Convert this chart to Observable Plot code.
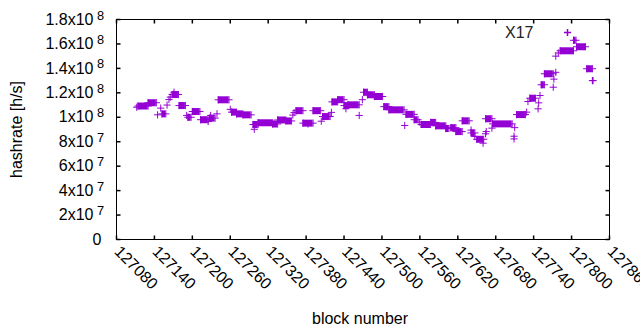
<!DOCTYPE html>
<html>
<head>
<meta charset="utf-8">
<script src="https://cdn.jsdelivr.net/npm/d3@7"></script>
<script src="https://cdn.jsdelivr.net/npm/@observablehq/plot@0.6"></script>
<style>
  html, body { margin: 0; padding: 0; background: #fff; }
  #chart svg { display: block; }
</style>
</head>
<body>
<div id="chart"></div>
<script>
// ---- data ----
// each entry is a run of consecutive blocks sharing one hashrate value
const runStart = [127112,127114,127130,127145,127150,127152,127160,127163,127165,127168,127171,127179,127191,127193,127200,127213,127225,127227,127229,127239,127241,127260,127262,127270,127280,127296,127298,127304,127327,127335,127348,127359,127361,127364,127375,127383,127391,127404,127406,127420,127421,127430,127440,127443,127446,127464,127469,127471,127477,127488,127503,127511,127536,127538,127551,127559,127562,127577,127585,127601,127609,127617,127627,127641,127641,127647,127650,127660,127664,127665,127664,127674,127675,127709,127709,127710,127713,127729,127731,127734,127747,127748,127750,127752,127757,127771,127772,127775,127775,127779,127782,127803,127808,127824,127833];
const runEnd   = [127112,127130,127143,127145,127150,127158,127160,127163,127165,127178,127171,127189,127191,127198,127212,127225,127225,127236,127229,127239,127258,127260,127270,127280,127293,127304,127298,127327,127335,127348,127357,127359,127361,127375,127391,127383,127403,127404,127418,127420,127430,127440,127446,127443,127464,127464,127469,127477,127488,127501,127511,127535,127536,127551,127557,127559,127577,127585,127601,127606,127617,127627,127638,127641,127647,127647,127661,127660,127664,127665,127674,127674,127706,127709,127709,127710,127727,127729,127731,127743,127747,127748,127750,127757,127771,127771,127772,127775,127775,127779,127803,127807,127822,127833,127834];
const runValue = [108.2,109.2,111.9,102.0,107.5,102.8,110.0,114.5,116.5,118.6,120.5,109.6,101.5,100.0,104.7,98.0,96.5,99.3,101.5,102.8,114.3,106.5,104.2,102.8,102.0,94.1,90.2,95.5,94.5,97.8,97.0,101.8,103.8,105.4,95.2,94.5,105.4,96.8,100.6,104.0,112.6,114.4,109.6,107.0,110.2,101.5,114.4,120.5,118.4,117.0,108.7,106.1,93.3,102.4,98.0,96.0,94.1,95.8,93.0,90.8,91.5,88.3,97.1,89.5,87.2,84.2,82.0,78.8,86.5,88.3,98.8,91.1,94.6,84.5,82.3,91.5,102.2,104.2,112.9,115.6,106.9,111.8,117.8,126.6,135.6,124.6,131.2,136.8,150.0,152.6,154.4,163.0,157.7,139.7,130.0].map(v => v * 1e6);

const xTicks = [127080,127140,127200,127260,127320,127380,127440,127500,127560,127620,127680,127740,127800,127860];
const yTicks = [0,2e7,4e7,6e7,8e7,1e8,1.2e8,1.4e8,1.6e8,1.8e8];
const yTickBase = ["0","2x10","4x10","6x10","8x10","1x10","1.2x10","1.4x10","1.6x10","1.8x10"];
const yTickExp  = ["","7","7","7","7","8","8","8","8","8"];
const seriesTitle = "X17";
const xLabel = "block number";
const yLabel = "hashrate [h/s]";

// ---- build tables ----
const runs = runStart.map((b1, i) => ({b1, b2: runEnd[i], v: runValue[i]}));
const longRuns = runs.filter(d => d.b2 > d.b1);
const yT = yTicks.map((v, i) => ({v, base: yTickBase[i], exp: yTickExp[i]}));

const color = "#9400d3";
const font = "'Liberation Sans', Arial, sans-serif";

// custom glyphs
const rOf = s => Math.sqrt(s / Math.PI);
const plusSym = {draw(c, s) { const r = rOf(s); c.moveTo(-r, 0); c.lineTo(r, 0); c.moveTo(0, -r); c.lineTo(0, r); }};
const tickUp = {draw(c, s) { const r = rOf(s); c.moveTo(0, 0); c.lineTo(0, -r); }};
const tickDown = {draw(c, s) { const r = rOf(s); c.moveTo(0, 0); c.lineTo(0, r); }};
const tickRight = {draw(c, s) { const r = rOf(s); c.moveTo(0, 0); c.lineTo(r, 0); }};
const tickLeft = {draw(c, s) { const r = rOf(s); c.moveTo(0, 0); c.lineTo(-r, 0); }};

const xMin = xTicks[0], xMax = xTicks[xTicks.length - 1];
const yMin = yTicks[0], yMax = yTicks[yTicks.length - 1];
const TL = 4;

const chart = Plot.plot({
  width: 640,
  height: 330,
  marginLeft: 116,
  marginRight: 31,
  marginTop: 19,
  marginBottom: 91,
  x: {domain: [xMin, xMax], axis: null},
  y: {domain: [yMin, yMax], axis: null},
  style: {fontFamily: font, fontSize: "16px", background: "#fff", color: "#000"},
  marks: [
    // inward ticks on all four sides
    Plot.dot(xTicks, {x: d => d, y: () => yMin, symbol: tickUp, r: TL, stroke: "#000", fill: "none"}),
    Plot.dot(xTicks, {x: d => d, y: () => yMax, symbol: tickDown, r: TL, stroke: "#000", fill: "none"}),
    Plot.dot(yTicks, {y: d => d, x: () => xMin, symbol: tickRight, r: TL, stroke: "#000", fill: "none"}),
    Plot.dot(yTicks, {y: d => d, x: () => xMax, symbol: tickLeft, r: TL, stroke: "#000", fill: "none"}),
    Plot.frame({stroke: "#000"}),
    // data: runs of identical values rendered as overlapping "+" points
    Plot.ruleY(longRuns, {y: "v", x1: "b1", x2: "b2", stroke: color, strokeWidth: 7}),
    Plot.dot(runs, {x: "b1", y: "v", symbol: plusSym, r: 3.6, stroke: color, fill: "none", strokeWidth: 1}),
    Plot.dot(longRuns, {x: "b2", y: "v", symbol: plusSym, r: 3.6, stroke: color, fill: "none", strokeWidth: 1}),
    // y tick labels
    Plot.text(yT.filter(d => d.exp === ""), {y: "v", frameAnchor: "left", text: "base", textAnchor: "end", dx: -15, fill: "#000"}),
    Plot.text(yT.filter(d => d.exp !== ""), {y: "v", frameAnchor: "left", text: "base", textAnchor: "end", dx: -23, fill: "#000"}),
    Plot.text(yT.filter(d => d.exp !== ""), {y: "v", frameAnchor: "left", text: "exp", textAnchor: "end", dx: -12.5, dy: -4, fontSize: 12.8, fill: "#000"}),
    // x tick labels (rotated)
    Plot.text(xTicks, {x: d => d, frameAnchor: "bottom", text: d => String(d), rotate: 45, textAnchor: "start", lineAnchor: "bottom", dx: -3, dy: 13, fill: "#000"}),
    // axis titles
    Plot.text([xLabel], {frameAnchor: "bottom", text: d => d, textAnchor: "middle", lineAnchor: "bottom", dx: -3, dy: 84, fill: "#000"}),
    Plot.text([yLabel], {frameAnchor: "left", text: d => d, rotate: -90, textAnchor: "middle", lineAnchor: "bottom", dx: -95, fill: "#000"}),
    // key
    Plot.text([seriesTitle], {frameAnchor: "top-right", text: d => d, textAnchor: "end", lineAnchor: "bottom", dx: -76, dy: 18, fill: "#222"}),
    Plot.dot([seriesTitle], {frameAnchor: "top-right", symbol: plusSym, r: 3.6, stroke: color, fill: "none", dx: -42, dy: 13})
  ]
});
document.getElementById("chart").appendChild(chart);
</script>
</body>
</html>
